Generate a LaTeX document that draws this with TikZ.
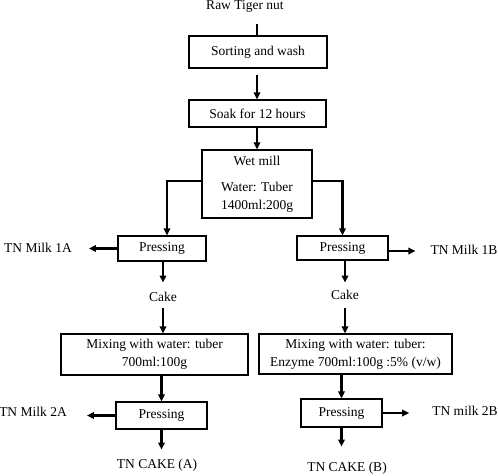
\documentclass[tikz,border=0pt]{standalone}
\usepackage{fontspec}
\setmainfont{Liberation Serif}
\usetikzlibrary{arrows.meta}
\begin{document}
\begin{tikzpicture}[x=1pt,y=-1pt,
  font=\fontsize{13.5}{18}\selectfont,
  box/.style={draw,line width=1.2pt,inner sep=0pt,align=center},
  lbl/.style={inner sep=0pt,text height=9.5pt,text depth=3pt},
  arr/.style={line width=2.3pt,-{Triangle[length=7pt,width=6.5pt]}}]
\useasboundingbox (0,0) rectangle (498,475);
% text labels
\node[lbl] (raw) at (245,6) {Raw Tiger nut};
\coordinate (rawend) at (257,24);
% boxes
\node[box,minimum width=138pt,minimum height=32pt] (sort) at (258,52) {Sorting and wash};
\node[box,minimum width=137pt,minimum height=27pt] (soak) at (257.5,113.5) {Soak for 12 hours};
\node[box,minimum width=110pt,minimum height=68pt] (wet) at (257,184) {Wet mill\\[8pt]Water: Tuber\\1400ml:200g};
\node[box,minimum width=88pt,minimum height=25pt] (pL1) at (162,248.5) {Pressing};
\node[box,minimum width=91pt,minimum height=24pt] (pR1) at (342.5,248) {Pressing};
\node[box,minimum width=187pt,minimum height=41pt] (mixL) at (154.5,354.5) {Mixing with water: tuber\\700ml:100g};
\node[box,minimum width=193pt,minimum height=40pt] (mixR) at (355.5,354) {Mixing with water: tuber:\\Enzyme 700ml:100g :5\% (v/w)};
\node[box,minimum width=91pt,minimum height=27pt] (pL2) at (161.5,415.5) {Pressing};
\node[box,minimum width=81pt,minimum height=28pt] (pR2) at (341.5,413) {Pressing};
% outputs
\node[lbl] (milk1A) at (38,249) {TN Milk 1A};
\node[lbl] (milk1B) at (464,251) {TN Milk 1B};
\node[lbl] (cakeL) at (163,298) {Cake};
\node[lbl] (cakeR) at (345,296) {Cake};
\node[lbl] (milk2A) at (33,413) {TN Milk 2A};
\node[lbl] (milk2B) at (465,412) {TN milk 2B};
\node[lbl] (cakeA) at (157,465) {TN CAKE (A)};
\node[lbl] (cakeB) at (347,468) {TN CAKE (B)};
% connectors
\draw[line width=2.3pt] (rawend) -- (sort.north -| rawend);
\draw[arr,shorten <=6pt] (sort.south -| rawend) -- (soak.north -| rawend);
\draw[arr] (soak.south -| rawend) -- (wet.north -| rawend);
\draw[arr] ([yshift=3pt]wet.west) -| ([xshift=5pt]pL1.north);
\draw[arr] ([yshift=3pt]wet.east) -| (pR1.north);
\draw[arr,shorten >=17pt] (pL1.west) -- (milk1A.east |- pL1.west);
\draw[arr,shorten >=15pt] ([yshift=-3pt]pR1.east) -- (milk1B.west);
\draw[arr,shorten >=9pt] (pL1.south -| cakeL) -- (cakeL.north);
\draw[arr,shorten >=7pt] (pR1.south -| cakeR) -- (cakeR.north);
\draw[arr,shorten <=4pt] (cakeL.south) -- (mixL.north -| cakeL);
\draw[arr,shorten <=6pt] (cakeR.south) -- (mixR.north -| cakeR);
\draw[arr] (mixL.south -| pL2) -- (pL2.north);
\draw[arr] (mixR.south -| pR2) -- (pR2.north);
\draw[arr,shorten >=20pt] (pL2.west) -- (milk2A.east |- pL2.west);
\draw[arr,shorten >=23pt] (pR2.east) -- (milk2B.west |- pR2.east);
\draw[arr,shorten >=9pt] (pL2.south) -- (cakeA.north -| pL2);
\draw[arr,shorten >=15pt] (pR2.south) -- (cakeB.north -| pR2);
\end{tikzpicture}
\end{document}
